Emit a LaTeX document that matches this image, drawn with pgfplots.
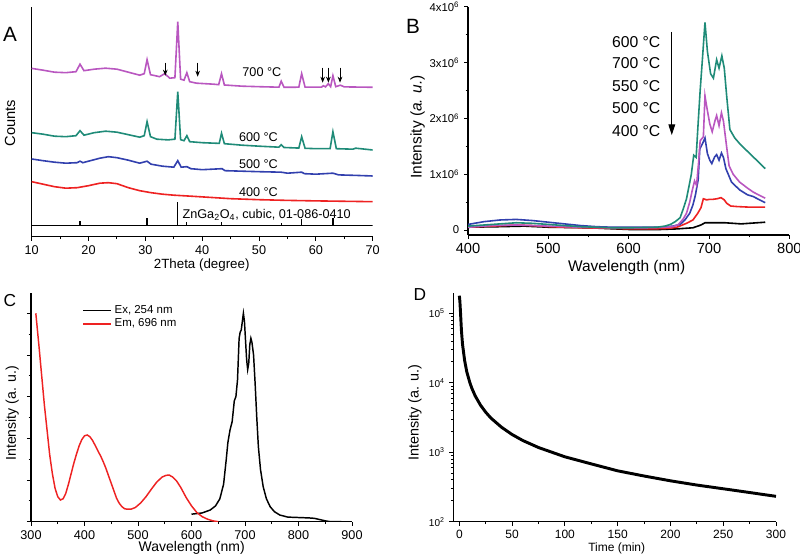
\documentclass[border=0pt]{standalone}
\usepackage{fontspec}
\setmainfont{Liberation Sans}
\usepackage{pgfplots}
\pgfplotsset{compat=1.18}
\usetikzlibrary{arrows.meta}

\definecolor{xteal}{HTML}{1F8B78}
\definecolor{xpurple}{HTML}{B957C0}
\definecolor{xblue}{HTML}{3240AE}
\definecolor{xred}{HTML}{EE2222}

\newcommand{\fs}[1]{\fontsize{#1}{#1}\selectfont}

\pgfplotsset{
  panel/.style={
    scale only axis, anchor=south west,
    axis x line*=bottom, axis y line*=left,
    axis line style={line width=0.9pt},
    tick align=outside, tick style={black, line width=0.7pt},
    major tick length=3pt, minor tick length=1.8pt,
    /pgf/number format/assume math mode=true,
    /pgf/number format/1000 sep={},
    ticklabel style={font=\fs{9.5}},
  },
}

\begin{document}
\begin{tikzpicture}
\path[use as bounding box] (0,0) rectangle (600pt,419.25pt);

% ---------- A: XRD ----------
\begin{axis}[panel, at={(23.78pt,241.73pt)}, width=255.75pt, height=172.5pt,
  xmin=10, xmax=70, ymin=0, ymax=230,
  xtick={10,20,...,70}, minor x tick num=1, ytick=\empty]
\addplot[xred, line width=1.2pt] coordinates {
 (10,55) (12,52.5) (14,50) (16,48.5) (18,49) (20,51) (22,53.5) (23.5,54) (25,53)
 (27,49) (29,46) (31,44) (33,42.5) (35,41.5) (38,40.5) (40,39.8) (45,38) (50,37)
 (55,36.3) (60,35.8) (65,35.4) (70,35)};
\addplot[xblue, line width=1.2pt] coordinates {
 (10,77.7) (12,76) (14,74.5) (16,73.5) (18,74) (18.5,75.5) (19,74) (20,75.5)
 (22,78.5) (23.5,80) (25,79) (27,76.5) (29,73.5) (30.3,75.5) (31,72.5) (33,70.5)
 (35,69.5) (35.7,76) (36.3,69.5) (37.3,70) (38,68) (40,67) (43.5,68) (44,66)
 (47,65.5) (50,65) (53.9,64.5) (55,63.5) (57.5,64.5) (58,63) (60,62.5) (63,63.5)
 (64,61.8) (67,61.3) (70,60.7)};
\addplot[xteal, line width=1.2pt] coordinates {
 (10,104) (12,102.5) (14,100.5) (16,100) (17.8,101) (18.5,106) (19.2,101.5) (21,104)
 (23,105.5) (25,104.5) (27,102) (29,99.5) (29.8,101) (30.3,115) (30.9,100) (32,97.5)
 (34,96.8) (35.2,97.5) (35.7,145) (36.2,97) (36.8,96) (37.3,101) (37.8,95) (40,94)
 (43,93.3) (43.4,103.4) (43.9,93) (47,91.5) (50,90.5) (53.5,89.5) (53.9,92) (54.4,89.2)
 (57,88.6) (57.5,100) (58.1,88.4) (60,88) (62.5,88) (63,105) (63.6,88) (66.5,87.5)
 (67,88.5) (70,86.7)};
\addplot[xpurple, line width=1.2pt] coordinates {
 (10,168.3) (12,166.5) (14,164.5) (16,164) (17.8,165) (18.5,172.5) (19.2,166) (21,167.5)
 (23,168.5) (25,167.5) (27,164.5) (29,161.5) (29.8,163) (30.3,177) (30.9,162) (32.5,160)
 (33.4,163) (34.3,158.5) (35.2,159) (35.7,215) (36.2,157.5) (36.8,156.5) (37.3,164)
 (37.8,155) (39,153.5) (42,152.5) (42.9,152) (43.4,163) (43.9,151.7) (47,150.5) (50,150)
 (53.5,149.5) (53.9,155.5) (54.4,149.4) (57,149.5) (57.5,163) (58.1,149.5) (61,149.5)
 (61.3,151) (61.7,149.8) (62.2,153) (62.6,150) (63,161) (63.5,150) (64.3,151.5)
 (65,149.8) (70,149.4)};
% reference pattern
\addplot[black, line width=0.9pt] coordinates {(10,11) (70,11)};
\addplot[black, line width=0.9pt, unbounded coords=jump] coordinates {
 (18.5,11) (18.5,15.7) (18.5,inf) (30.3,11) (30.3,19) (30.3,inf)
 (35.7,11) (35.7,35) (35.7,inf) (37.3,11) (37.3,15) (37.3,inf)
 (43.4,11) (43.4,14.4) (43.4,inf) (53.9,11) (53.9,13.4) (53.9,inf)
 (57.5,11) (57.5,17.4) (57.5,inf) (63,11) (63,18.4)};
\foreach \xa/\ya/\yb in {33.5/174/161, 39.2/174/160, 61.2/169/154, 62.2/169/154, 64.25/169/154}{
  \edef\tmp{\noexpand\draw[-{Stealth[length=4.5pt,width=3.5pt]}, line width=0.7pt]
    (axis cs:\xa,\ya) -- (axis cs:\xa,\yb);}\tmp
}
\node[font=\fs{9.5}] at (axis cs:50.5,165) {700 °C};
\node[font=\fs{9.5}] at (axis cs:49.9,99.4) {600 °C};
\node[font=\fs{9.5}] at (axis cs:49.9,72.7) {500 °C};
\node[font=\fs{9.5}] at (axis cs:49.9,45) {400 °C};
\node[font=\fs{9.5}, anchor=west, inner sep=0pt] at (axis cs:36.5,21.7)
  {ZnGa\textsubscript{2}O\textsubscript{4}, cubic, 01-086-0410};
\end{axis}

% ---------- B: emission vs temperature ----------
\begin{axis}[panel, at={(351pt,243pt)}, width=241pt, height=171.2pt,
  xmin=400, xmax=800, ymin=-0.089, ymax=4,
  xtick={400,500,...,800}, minor x tick num=1,
  ytick={0,1,2,3,4}, minor y tick num=1,
  yticklabels={0,1x10\textsuperscript{6},2x10\textsuperscript{6},3x10\textsuperscript{6},4x10\textsuperscript{6}},
  yticklabel style={font=\fs{8.5}},
  xticklabel style={font=\fs{11}}]
\addplot[black, line width=1.2pt] coordinates {
 (400,0.05) (440,0.06) (470,0.07) (500,0.05) (550,0.04) (600,0.01) (640,0.01)
 (660,0.02) (680,0.04) (690,0.09) (695,0.13) (710,0.13) (720,0.13) (730,0.12)
 (740,0.11) (750,0.12) (760,0.13) (770,0.14)};
\addplot[xred, line width=1.2pt] coordinates {
 (400,0.05) (430,0.07) (460,0.09) (480,0.08) (500,0.06) (540,0.04) (580,0.03)
 (600,0.02) (630,0.02) (650,0.03) (660,0.05) (672,0.12) (680,0.18) (686,0.3)
 (690,0.4) (693,0.56) (697,0.54) (701,0.55) (705,0.55) (710,0.56) (715,0.58)
 (719,0.54) (722,0.48) (727,0.43) (735,0.42) (750,0.41) (770,0.41)};
\addplot[xblue, line width=1.2pt] coordinates {
 (400,0.1) (420,0.15) (440,0.18) (460,0.19) (480,0.17) (500,0.14) (520,0.11)
 (540,0.08) (560,0.06) (580,0.05) (600,0.05) (620,0.05) (640,0.05) (655,0.07)
 (664,0.1) (670,0.18) (676,0.3) (680,0.45) (683,0.62) (686.5,0.9) (688.5,1.45)
 (692,1.55) (695,1.65) (698,1.37) (701,1.25) (703.5,1.19) (707,1.31) (709.5,1.35)
 (712.5,1.25) (715.5,1.38) (718,1.3) (721,1.1) (728,0.86) (738,0.72) (748,0.63)
 (755,0.6) (763,0.54) (770,0.49)};
\addplot[xpurple, line width=1.2pt] coordinates {
 (400,0.05) (430,0.08) (460,0.09) (480,0.08) (500,0.07) (540,0.05) (580,0.04)
 (620,0.04) (645,0.05) (655,0.06) (662,0.1) (668,0.2) (672,0.3) (676,0.5) (679,0.7)
 (682,0.88) (684.5,0.8) (687,1.2) (689,1.6) (693,1.67) (695,2.4) (698,2.14) (701,1.9)
 (704,1.76) (707.5,1.96) (709.5,2.05) (712.5,1.87) (715.5,2.1) (718,1.95) (721,1.6)
 (725,1.15) (730,1.0) (738,0.86) (748,0.75) (755,0.68) (763,0.62) (770,0.57)};
\addplot[xteal, line width=1.2pt] coordinates {
 (400,0.07) (420,0.09) (440,0.11) (460,0.13) (480,0.12) (500,0.1) (520,0.08)
 (540,0.06) (560,0.05) (580,0.04) (600,0.04) (620,0.045) (635,0.05) (645,0.07)
 (652,0.1) (658,0.15) (664,0.22) (668,0.38) (672,0.56) (676,0.85) (678,1.0)
 (681,1.34) (684,1.3) (686,1.8) (689,2.5) (692,3.1) (695,3.72) (698,3.2) (702,2.8)
 (705.5,2.72) (709.5,3.05) (712.5,2.9) (716,3.12) (719,2.9) (722,2.4) (726,1.8)
 (732,1.65) (738,1.55) (745,1.45) (755,1.31) (763,1.2) (770,1.1)};
\draw[-{Triangle[length=8pt,width=5pt]}, line width=0.8pt]
  (axis cs:653.7,3.55) -- (axis cs:653.7,1.70);
\foreach \t/\yy in {600/3.36, 700/2.99, 550/2.57, 500/2.18, 400/1.77}{
  \edef\tmp{\noexpand\node[font=\noexpand\fs{11.8}, anchor=west, inner sep=0pt]
    at (axis cs:579,\yy) {\t\space °C};}\tmp
}
\end{axis}

% ---------- C: excitation / emission ----------
\begin{axis}[panel, at={(23.25pt,27.98pt)}, width=240.75pt, height=171.3pt,
  xmin=300, xmax=900, ymin=0, ymax=5.48,
  xtick={300,400,...,900}, minor x tick num=1,
  ytick={0,1,...,5}, yticklabels={}, minor y tick num=1,
  legend style={draw=none, fill=none, at={(0.155,0.965)}, anchor=north west,
    font=\fs{8.6}, row sep=-1.5pt, inner sep=1pt},
  legend cell align=left,
  legend image code/.code={\draw[#1, line width=1.2pt] (0pt,0pt) -- (21pt,0pt);}]
\addplot[black, line width=1.1pt] coordinates {
 (600,0.18) (620,0.21) (635,0.28) (645,0.38) (653,0.55) (660,0.9) (665,1.5)
 (668,1.9) (672,2.2) (676,2.4) (680,2.9) (683,3.0) (686,3.4) (689,4.4) (691,4.55)
 (693,4.6) (697,5.0) (699,4.8) (701,4.35) (703,3.9) (705,3.65) (707,3.8) (709,4.25)
 (711,4.4) (713,4.3) (716,4.0) (719,3.3) (722,2.5) (725,1.8) (729,1.25) (734,0.84)
 (740,0.55) (747,0.36) (755,0.24) (765,0.16) (780,0.11) (800,0.1) (820,0.09)
 (830,0.08) (840,0.05) (850,0.02) (860,0.0) (880,0.0)};
\addlegendentry{Ex, 254 nm}
\addplot[xred, line width=1.1pt] coordinates {
 (309,5.0) (315,4.2) (320,3.5) (325,2.8) (330,2.2) (335,1.6) (340,1.15) (345,0.8)
 (350,0.6) (355,0.52) (360,0.55) (365,0.68) (370,0.9) (375,1.15) (380,1.4)
 (385,1.62) (390,1.82) (395,1.97) (400,2.06) (405,2.08) (410,2.04) (415,1.95)
 (420,1.83) (425,1.7) (430,1.58) (435,1.44) (440,1.28) (445,1.1) (450,0.92)
 (455,0.74) (460,0.56) (465,0.44) (470,0.36) (475,0.31) (480,0.30) (487,0.30)
 (495,0.34) (505,0.45) (515,0.6) (525,0.78) (535,0.95) (545,1.07) (552,1.11)
 (558,1.12) (565,1.07) (572,0.98) (580,0.82) (590,0.58) (600,0.38) (610,0.22)
 (620,0.12) (630,0.06) (640,0.02) (650,0.0)};
\addlegendentry{Em, 696 nm}
\end{axis}

% ---------- D: afterglow decay ----------
\begin{axis}[panel, at={(340pt,27.98pt)}, width=242pt, height=171.3pt,
  xmin=-5.7, xmax=300, ymode=log, ymin=100, ymax=1.95e5,
  xtick={0,50,...,300}, minor x tick num=1,
  ytick={100,1000,10000,100000},
  yticklabels={10\textsuperscript{2},10\textsuperscript{3},10\textsuperscript{4},10\textsuperscript{5}},
  yticklabel style={font=\fs{7.5}},
  xticklabel style={font=\fs{9}}]
\addplot[black, line width=2.2pt] coordinates {
 (0,1.8e5) (0.5,1.5e5) (1,1.1e5) (2,5.6e4) (3,3.6e4) (5,2.1e4) (7,1.45e4) (10,1.0e4)
 (12,8240) (15,6490) (20,4780) (25,3770) (30,3100) (40,2290) (50,1800) (60,1480)
 (75,1170) (100,860) (125,680) (150,540) (175,455) (200,388) (225,337) (250,298)
 (275,263) (300,232)};
\end{axis}

% ---------- panel letters and axis titles ----------
\begin{scope}[x=0.75pt, y=-0.75pt, yshift=419.25pt]
\node[font=\fs{15.5}] at (10,34) {A};
\node[font=\fs{15.5}] at (413,26) {B};
\node[font=\fs{13}] at (10,301) {C};
\node[font=\fs{13}] at (420,294.5) {D};
\node[font=\fs{11}, rotate=90] at (10,123) {Counts};
\node[font=\fs{10}] at (201.7,265) {2Theta (degree)};
\node[font=\fs{11.6}, rotate=90] at (417.5,127) {Intensity (\textit{a. u.})};
\node[font=\fs{11.6}] at (626.7,267.5) {Wavelength (nm)};
\node[font=\fs{10.6}, rotate=90] at (12.3,413.3) {Intensity (a. u.)};
\node[font=\fs{10.5}] at (191.7,548.3) {Wavelength (nm)};
\node[font=\fs{10.8}, rotate=90] at (415,412.7) {Intensity (a. u.)};
\node[font=\fs{9}] at (616.7,548.3) {Time (min)};
\end{scope}
\end{tikzpicture}
\end{document}
